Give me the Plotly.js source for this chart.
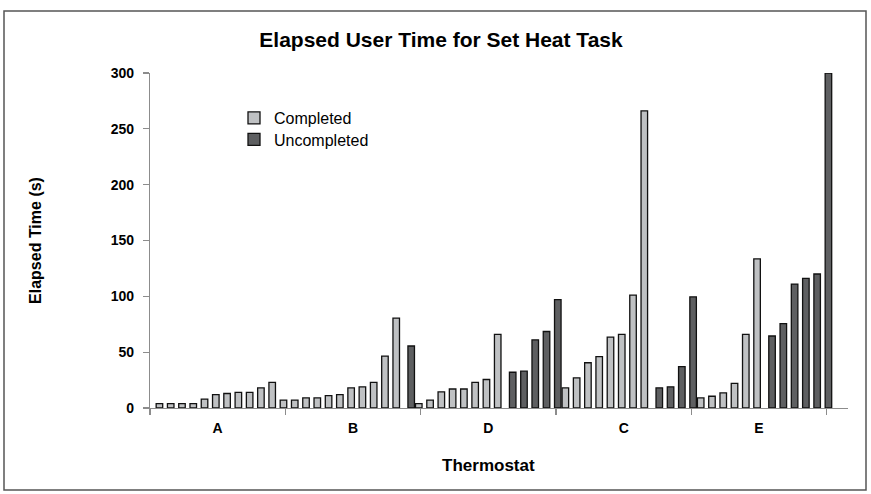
<!DOCTYPE html>
<html>
<head>
<meta charset="utf-8">
<script src="https://cdn.plot.ly/plotly-3.0.1.min.js"></script>
<style>
  html, body { margin: 0; padding: 0; background: #ffffff; }
  #chart { width: 871px; height: 494px; }
</style>
</head>
<body>
<div id="chart"></div>
<script>
// Thermostat group labels (12 participants each, axis order as in the chart)
const thermostats = ['A', 'B', 'D', 'C', 'E'];

// Elapsed time (s) per participant, in chart order; null = not in that series
const completed = [
  4, 4, 4, 4, 8, 12, 13, 14, 14, 18, 23, 7,
  7, 9, 9, 11, 12, 18, 19, 23, 46.5, 80.5, null, 4,
  7, 14.5, 17, 17, 23, 25.5, 66, null, null, null, null, null,
  18, 27, 40.5, 46, 63.5, 66, 101, 266, null, null, null, null,
  9, 10.5, 13.5, 22, 66, 133.5, null, null, null, null, null, null
];
const uncompleted = [
  null, null, null, null, null, null, null, null, null, null, null, null,
  null, null, null, null, null, null, null, null, null, null, 55.5, null,
  null, null, null, null, null, null, null, 32, 33, 61, 68.5, 97,
  null, null, null, null, null, null, null, null, 18, 19, 37, 99.5,
  null, null, null, null, null, null, 64.5, 75.5, 111, 116, 120, 300
];
const participant = completed.map((_, i) => i + 1);

const FONT = 'Arial, "Liberation Sans", sans-serif';

const traces = [
  {
    type: 'bar', name: 'Completed', x: participant, y: completed,
    width: 0.58, offset: -0.454, legend: 'legend',
    marker: { color: '#BFC1C3', line: { color: '#111111', width: 1.3 } },
    hoverinfo: 'y'
  },
  {
    type: 'bar', name: 'Uncompleted', x: participant, y: uncompleted,
    width: 0.58, offset: -0.126, legend: 'legend2',
    marker: { color: '#5E5F61', line: { color: '#111111', width: 1.3 } },
    hoverinfo: 'y'
  },
  {
    type: 'scatter', mode: 'markers', x: thermostats, y: thermostats.map(() => null),
    xaxis: 'x2', yaxis: 'y', showlegend: false, hoverinfo: 'skip'
  }
];

// plot area: x 150..848, y 73..408
const L = 150, R = 848, T = 73, B = 408, W = 871, H = 494;
const px = v => (v - L) / (R - L);
const py = v => (B - v) / (B - T);

const legendStyle = (top) => ({
  x: px(234), y: py(top), xanchor: 'left', yanchor: 'top',
  bgcolor: 'rgba(0,0,0,0)', borderwidth: 0,
  font: { family: FONT, size: 16, color: '#000000' }
});

const layout = {
  width: W, height: H,
  margin: { l: L, r: W - R, t: T, b: H - B, pad: 0 },
  paper_bgcolor: '#ffffff', plot_bgcolor: 'rgba(0,0,0,0)',
  font: { family: FONT, color: '#000000' },
  barmode: 'overlay',
  showlegend: true,
  title: {
    text: '<b>Elapsed User Time for Set Heat Task</b>',
    font: { family: FONT, size: 21, color: '#000000' },
    x: 441 / W, xanchor: 'center', y: 1 - 40 / H, yanchor: 'middle'
  },
  xaxis: {
    type: 'linear', range: [0, 61.9], domain: [0, 1],
    showline: true, linecolor: '#8C8C8C', linewidth: 1.2,
    showgrid: false, zeroline: false, ticks: '', showticklabels: false,
    fixedrange: true
  },
  xaxis2: {
    type: 'category', anchor: 'y', domain: [0, px(826.7)],
    categoryorder: 'array', categoryarray: thermostats,
    range: [-0.5, 4.5],
    showline: false, showgrid: false, zeroline: false,
    ticks: 'outside', tickson: 'boundaries', ticklen: 6, tickwidth: 1.2, tickcolor: '#8C8C8C',
    ticklabelstandoff: 10,
    tickfont: { family: FONT, size: 14, color: '#000000', weight: 'bold' },
    title: { text: '<b>Thermostat</b>', font: { family: FONT, size: 17, color: '#000000' }, standoff: 24 },
    fixedrange: true
  },
  yaxis: {
    range: [0, 300], dtick: 50, tick0: 0,
    showline: true, linecolor: '#8C8C8C', linewidth: 1.2,
    showgrid: false, zeroline: false,
    ticks: 'outside', ticklen: 6, tickwidth: 1.2, tickcolor: '#8C8C8C',
    ticklabelstandoff: 6,
    tickfont: { family: FONT, size: 14, color: '#000000', weight: 'bold' },
    title: { text: '<b>Elapsed Time (s)</b>', font: { family: FONT, size: 16, color: '#000000' }, standoff: 65 },
    fixedrange: true
  },
  legend: legendStyle(101),
  legend2: legendStyle(122.5),
  shapes: [
    {
      type: 'rect', xref: 'paper', yref: 'paper',
      x0: px(4), x1: px(866), y0: py(490), y1: py(11),
      line: { color: '#555555', width: 1.5 }, fillcolor: 'rgba(0,0,0,0)'
    }
  ]
};

Plotly.newPlot('chart', traces, layout, { displayModeBar: false, staticPlot: true });
</script>
</body>
</html>
